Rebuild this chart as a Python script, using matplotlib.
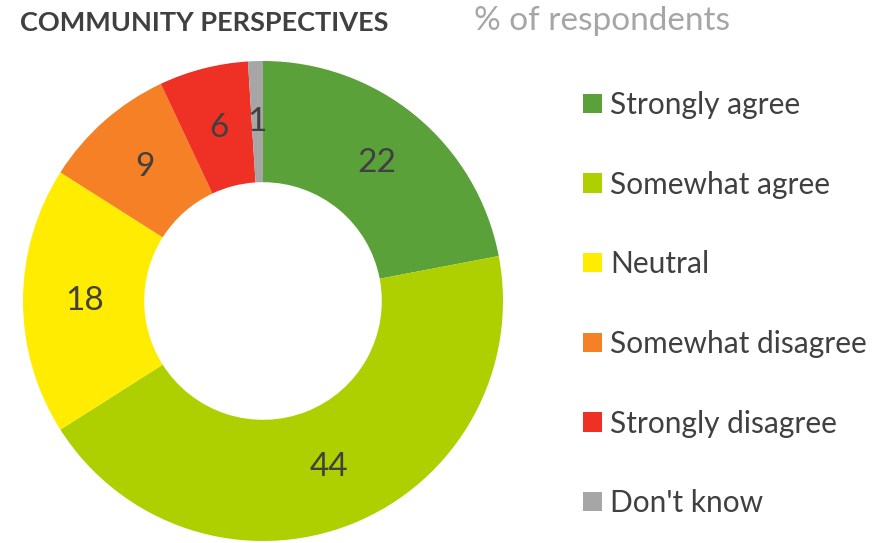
import matplotlib.pyplot as plt

plt.rcParams['font.family'] = ['Lato', 'DejaVu Sans']

categories = ["Strongly agree", "Somewhat agree", "Neutral",
              "Somewhat disagree", "Strongly disagree", "Don't know"]
values = [22, 44, 18, 9, 6, 1]
colors = ["#5BA13A", "#AFD000", "#FFEC00", "#F58025", "#EE3124", "#A6A6A6"]

text_color = "#404040"

fig = plt.figure(figsize=(8.77, 5.43), dpi=100)
ax = fig.add_axes([23 / 877, 2 / 543, 480 / 877, 480 / 543])

wedges, texts = ax.pie(
    values,
    colors=colors,
    startangle=90,
    counterclock=False,
    radius=1.0,
    labels=[str(v) for v in values],
    labeldistance=0.745,
    wedgeprops=dict(width=0.505, edgecolor="none"),
    textprops=dict(color=text_color, fontsize=24, ha="center", va="center"),
)
ax.set_xlim(-1, 1)
ax.set_ylim(-1, 1)
ax.set_aspect("equal")

# title + subtitle
fig.text(20 / 877, 1 - 23 / 543, "COMMUNITY PERSPECTIVES", fontsize=19.5,
         fontweight="bold", color=text_color, va="center", ha="left")
fig.text(474 / 877, 1 - 21 / 543, "% of respondents", fontsize=24,
         color="#A6A6A6", va="center", ha="left")

leg = fig.legend(
    wedges, categories,
    loc="upper left",
    bbox_to_anchor=(583 / 877, 1 - 91 / 543),
    frameon=False,
    fontsize=21.5,
    labelcolor=text_color,
    handlelength=0.62,
    handleheight=0.62,
    handletextpad=0.3,
    labelspacing=1.73,
    borderpad=0,
    borderaxespad=0,
)

fig.savefig("out.png", dpi=100)
plt.close()
